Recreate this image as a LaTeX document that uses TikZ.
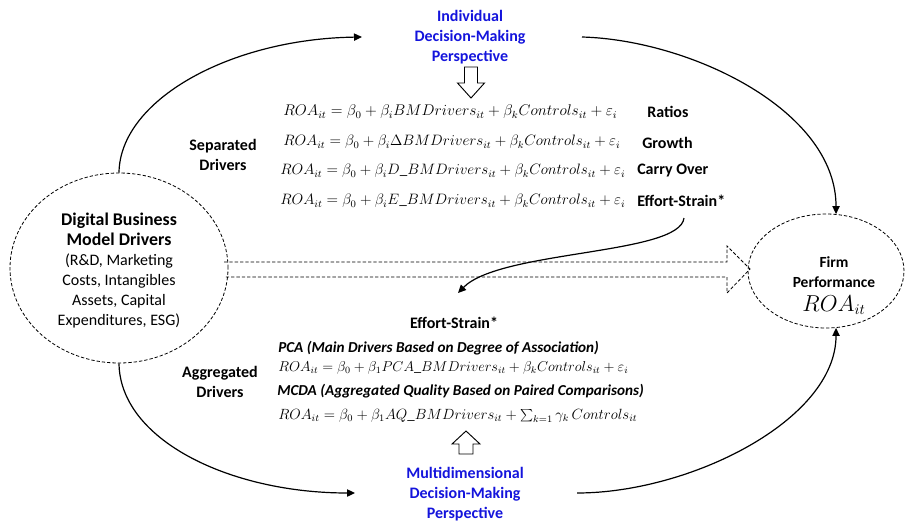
\documentclass[tikz,border=0pt]{standalone}
\usepackage{fontspec}
\setmainfont{Carlito}
\usetikzlibrary{shapes.geometric,arrows.meta,calc}
\definecolor{pblue}{RGB}{20,20,220}
\newcommand\eqbox[2]{\resizebox{#1}{!}{$#2$}}
\begin{document}
\begin{tikzpicture}[x=0.75pt,y=-0.75pt,
  txt/.style={font=\fontsize{12}{15}\selectfont, align=center, inner sep=0pt},
  lbl/.style={txt, font=\fontsize{12}{15}\selectfont\bfseries},
  bluelbl/.style={lbl, text=pblue},
  eqn/.style={font=\fontsize{12}{15}\selectfont, inner sep=0pt, anchor=west},
  head/.style={font=\fontsize{11.4}{14}\selectfont\bfseries\itshape, inner sep=0pt, anchor=west},
  bubble/.style={draw, ellipse, dash pattern=on 2.5pt off 1.5pt, line width=0.6pt, inner sep=0pt},
  flow/.style={line width=0.9pt, -{Triangle[length=6pt,width=5.5pt]}},
  hollow/.style={draw, line width=0.7pt, fill=white, line join=miter},
]
\useasboundingbox (0,0) rectangle (906,521);

% main ellipses
\node[bubble, minimum width=163.5pt, minimum height=142.5pt] (L) at (119,268) {};
\node[txt] (Ltxt) at (119,271) {{\fontsize{13.4}{15}\selectfont\bfseries Digital Business}\\{\fontsize{13.4}{15}\selectfont\bfseries Model Drivers}\\(R\&D, Marketing\\Costs, Intangibles\\Assets, Capital\\Expenditures, ESG)};
\node[bubble, minimum width=117pt, minimum height=85.5pt] (R) at (826,271) {};
\node[lbl, font=\fontsize{11.6}{15.5}\selectfont\bfseries] (Rtxt) at (834,272) {Firm\\Performance};
\node[inner sep=0pt, font=\fontsize{16}{18}\selectfont] (Rroa) at (834,305) {$ROA_{it}$};

% perspectives
\node[bluelbl] (indiv) at (470,37.5) {Individual\\Decision-Making\\Perspective};
\node[bluelbl] (multi) at (465,494.5) {Multidimensional\\Decision-Making\\Perspective};

% separated drivers
\node[lbl] (sep) at (223,155) {Separated\\Drivers};
\node[eqn] (e1) at (283,112) {\eqbox{250.5pt}{ROA_{it}=\beta_0+\beta_i BMDrivers_{it}+\beta_k Controls_{it}+\varepsilon_i}};
\node[eqn] (e2) at (283,142) {\eqbox{252.75pt}{ROA_{it}=\beta_0+\beta_i \Delta BMDrivers_{it}+\beta_k Controls_{it}+\varepsilon_i}};
\node[eqn] (e3) at (280,171) {\eqbox{258.75pt}{ROA_{it}=\beta_0+\beta_i D\_BMDrivers_{it}+\beta_k Controls_{it}+\varepsilon_i}};
\node[eqn] (e4) at (280,201) {\eqbox{258.75pt}{ROA_{it}=\beta_0+\beta_i E\_BMDrivers_{it}+\beta_k Controls_{it}+\varepsilon_i}};
\node[lbl, anchor=west] (ratios) at (647,112) {Ratios};
\node[lbl, anchor=west] (growth) at (642,143) {Growth};
\node[lbl, anchor=west] (carry) at (637,171) {Carry Over};
\node[lbl, anchor=west] (es1) at (637,201) {Effort-Strain*};

% aggregated drivers
\node[lbl] (es2) at (454,323) {Effort-Strain*};
\node[lbl] (agg) at (220,382) {Aggregated\\Drivers};
\node[head] (pca) at (278,348) {PCA (Main Drivers Based on Degree of Association)};
\node[eqn] (e5) at (278,368) {\eqbox{262.5pt}{ROA_{it}=\beta_0+\beta_1 PCA\_BMDrivers_{it}+\beta_k Controls_{it}+\varepsilon_i}};
\node[head] (mcda) at (277,391) {MCDA (Aggregated Quality Based on Paired Comparisons)};
\node[eqn] (e6) at (278,416) {\eqbox{269.25pt}{ROA_{it}=\beta_0+\beta_1 AQ\_BMDrivers_{it}+\sum_{k=1}\gamma_k\, Controls_{it}}};

% curved connectors
\coordinate (tl) at (362,37);
\coordinate (tr) at (582,37);
\coordinate (bl) at (355,493);
\coordinate (br) at (577,493);
\coordinate (esa) at (684,218);
\coordinate (esb) at (458,293);
\draw[flow] (L.north) .. controls (120,100) and (230,39) .. (tl);
\draw[flow] (tr) .. controls (690,40) and (836,110) .. (R.80);
\draw[flow] (L.south) .. controls (120,440) and (230,493) .. (bl);
\draw[flow] (br) .. controls (690,493) and (836,420) .. (R.-80);
\draw[flow] (esa) .. controls (680,255) and (500,250) .. (esb);

% dashed hollow arrow
\draw[dash pattern=on 2.5pt off 1.5pt, line width=0.6pt]
  (224,262) -- (727,262) -- (727,246) -- (750,269) -- (727,293) -- (727,277) -- (224,277);

% hollow block arrows
\draw[hollow] (464.5,67) -- (477.5,67) -- (477.5,83) -- (484.5,83) -- (471,98) -- (457.5,83) -- (464.5,83) -- cycle;
\draw[hollow] (459,454) -- (473,454) -- (473,444) -- (480,444) -- (466,431) -- (452,444) -- (459,444) -- cycle;
\end{tikzpicture}
\end{document}
